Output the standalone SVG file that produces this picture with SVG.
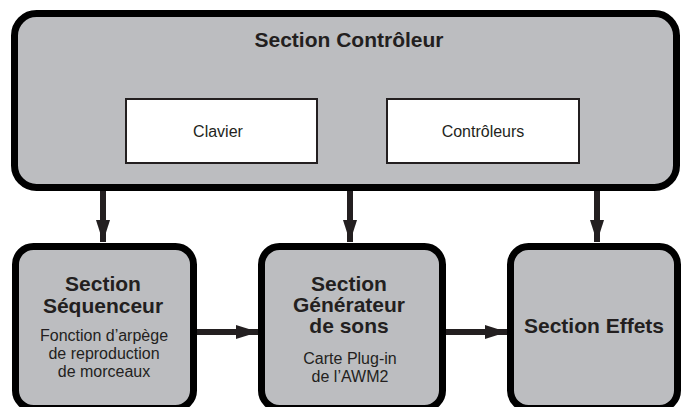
<svg xmlns="http://www.w3.org/2000/svg" width="682" height="407" viewBox="0 0 682 407">
<style>
.sec{fill:#bcbdc0;stroke:#000;stroke-width:7}
.inner{fill:#fff;stroke:#231f20;stroke-width:2}
.t{font-family:"Liberation Sans",Arial,sans-serif;fill:#231f20;text-anchor:middle}
.b{font-weight:bold;font-size:21px}
.r{font-size:16px}
.arr{stroke:#231f20;stroke-width:6;fill:none;marker-end:url(#ah)}
</style>
<defs>
<marker id="ah" markerUnits="userSpaceOnUse" markerWidth="22" markerHeight="14" viewBox="0 0 22 14" refX="22" refY="7" orient="auto">
<path d="M0,0 L22,7 L0,14 Z" fill="#231f20"/>
</marker>
</defs>
<g id="controleur">
<rect class="sec" x="14.5" y="13.5" width="662" height="174" rx="22"/>
<text class="t b" x="349" y="47">Section Contrôleur</text>
</g>
<g id="clavier">
<rect class="inner" x="126" y="99" width="191" height="64"/>
<text class="t r" x="218" y="137">Clavier</text>
</g>
<g id="controleurs">
<rect class="inner" x="387" y="99" width="192" height="64"/>
<text class="t r" x="483" y="137">Contrôleurs</text>
</g>
<g id="sequenceur">
<rect class="sec" x="15.5" y="246.5" width="178" height="162" rx="18"/>
<text class="t b" x="103" y="291">Section</text>
<text class="t b" x="103" y="313">Séquenceur</text>
<text class="t r" x="104" y="341">Fonction d’arpège</text>
<text class="t r" x="104" y="359">de reproduction</text>
<text class="t r" x="104" y="377">de morceaux</text>
</g>
<g id="generateur">
<rect class="sec" x="261.5" y="246.5" width="181" height="162" rx="18"/>
<text class="t b" x="349" y="291">Section</text>
<text class="t b" x="349" y="312">Générateur</text>
<text class="t b" x="349" y="333">de sons</text>
<text class="t r" x="350" y="364">Carte Plug-in</text>
<text class="t r" x="350" y="382">de l’AWM2</text>
</g>
<g id="effets">
<rect class="sec" x="510.5" y="246.5" width="167" height="162" rx="18"/>
<text class="t b" x="594" y="333">Section Effets</text>
</g>
<g id="connectors">
<path class="arr" d="M103,191 V242"/>
<path class="arr" d="M350,191 V242"/>
<path class="arr" d="M597,191 V242"/>
<path class="arr" d="M197,332 H258"/>
<path class="arr" d="M446,332 H507"/>
</g>
</svg>
